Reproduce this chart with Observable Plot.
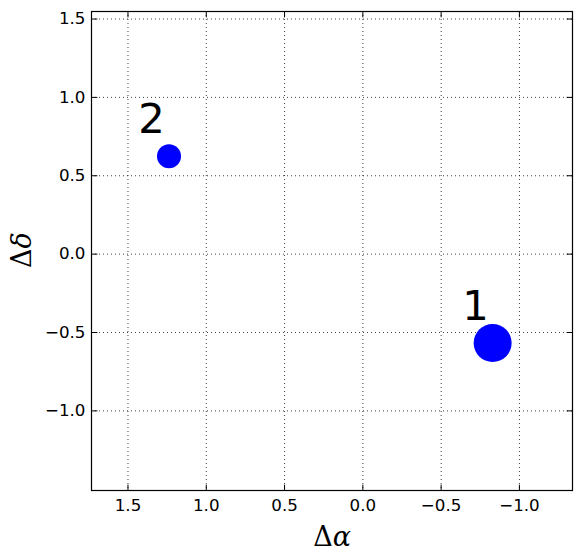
<!DOCTYPE html>
<html><head><meta charset="utf-8">
<script src="https://cdn.jsdelivr.net/npm/d3@7"></script>
<script src="https://cdn.jsdelivr.net/npm/@observablehq/plot@0.6"></script>
<style>body{margin:0;background:#fff} svg{display:block}</style>
</head><body><div id="chart"></div>
<script>
// data
const labels = ["1", "2"];
const dAlpha = [-0.829, 1.238];
const dDelta = [-0.567, 0.624];
const weights = [1.0, 0.4];
const labelAlpha = [-0.719, 1.350];
const labelDelta = [-0.418, 0.771];
const xTicks = [1.5, 1.0, 0.5, 0.0, -0.5, -1.0];
const yTicks = [1.5, 1.0, 0.5, 0.0, -0.5, -1.0];
const xDomain = [1.733, -1.339];
const yDomain = [-1.508, 1.548];

const pts = labels.map((l, i) => ({label: l, a: dAlpha[i], d: dDelta[i], w: weights[i], la: labelAlpha[i], ld: labelDelta[i]}));
const fmt = d => d.toFixed(1).replace("-", "\u2212");
const tickShape = {draw(ctx, l) { ctx.moveTo(0, 0); ctx.lineTo(0, -l); }};
const tickOpts = {length: 5.5, anchor: "start", shape: tickShape, stroke: "black", strokeWidth: 1};

const plot = Plot.plot({
  width: 580, height: 558,
  marginLeft: 91, marginRight: 8, marginTop: 11, marginBottom: 68,
  style: {fontFamily: "DejaVu Sans", fontSize: "16.7px", color: "black", background: "white"},
  x: {domain: xDomain},
  y: {domain: yDomain},
  r: {type: "sqrt", domain: [0, 1], range: [0, 19]},
  marks: [
    Plot.gridX(xTicks, {stroke: "black", strokeOpacity: 0.75, strokeDasharray: "1,3"}),
    Plot.gridY(yTicks, {stroke: "black", strokeOpacity: 0.75, strokeDasharray: "1,3"}),
    Plot.vector(xTicks, {x: d => d, frameAnchor: "bottom", ...tickOpts}),
    Plot.vector(xTicks, {x: d => d, frameAnchor: "top", rotate: 180, ...tickOpts}),
    Plot.vector(yTicks, {y: d => d, frameAnchor: "left", rotate: 90, ...tickOpts}),
    Plot.vector(yTicks, {y: d => d, frameAnchor: "right", rotate: -90, ...tickOpts}),
    Plot.frame({stroke: "black", strokeWidth: 1.2}),
    Plot.dot(pts, {x: "a", y: "d", r: "w", fill: "#0000ff", stroke: "none"}),
    Plot.text(pts, {x: "la", y: "ld", text: "label", fontSize: 41.7, fontFamily: "DejaVu Sans", textAnchor: "middle", lineAnchor: "bottom", fill: "black"}),
    Plot.axisX(xTicks, {anchor: "bottom", tickSize: 0, tickPadding: 9, tickFormat: fmt, label: null}),
    Plot.axisY(yTicks, {anchor: "left", tickSize: 0, tickPadding: 6, tickFormat: fmt, label: null})
  ]
});
document.getElementById("chart").append(plot);

const svg = d3.select(plot);
const xl = svg.append("text").attr("x", 332).attr("y", 546)
  .attr("text-anchor", "middle").attr("font-family", "DejaVu Serif").attr("font-size", 27).attr("fill", "black");
xl.append("tspan").text("\u0394");
xl.append("tspan").attr("font-style", "italic").text("\u03b1");
const yl = svg.append("text").attr("transform", "translate(31,250) rotate(-90)")
  .attr("text-anchor", "middle").attr("font-family", "DejaVu Serif").attr("font-size", 27).attr("fill", "black");
yl.append("tspan").text("\u0394");
yl.append("tspan").attr("font-style", "italic").text("\u03b4");
</script>
</body></html>
